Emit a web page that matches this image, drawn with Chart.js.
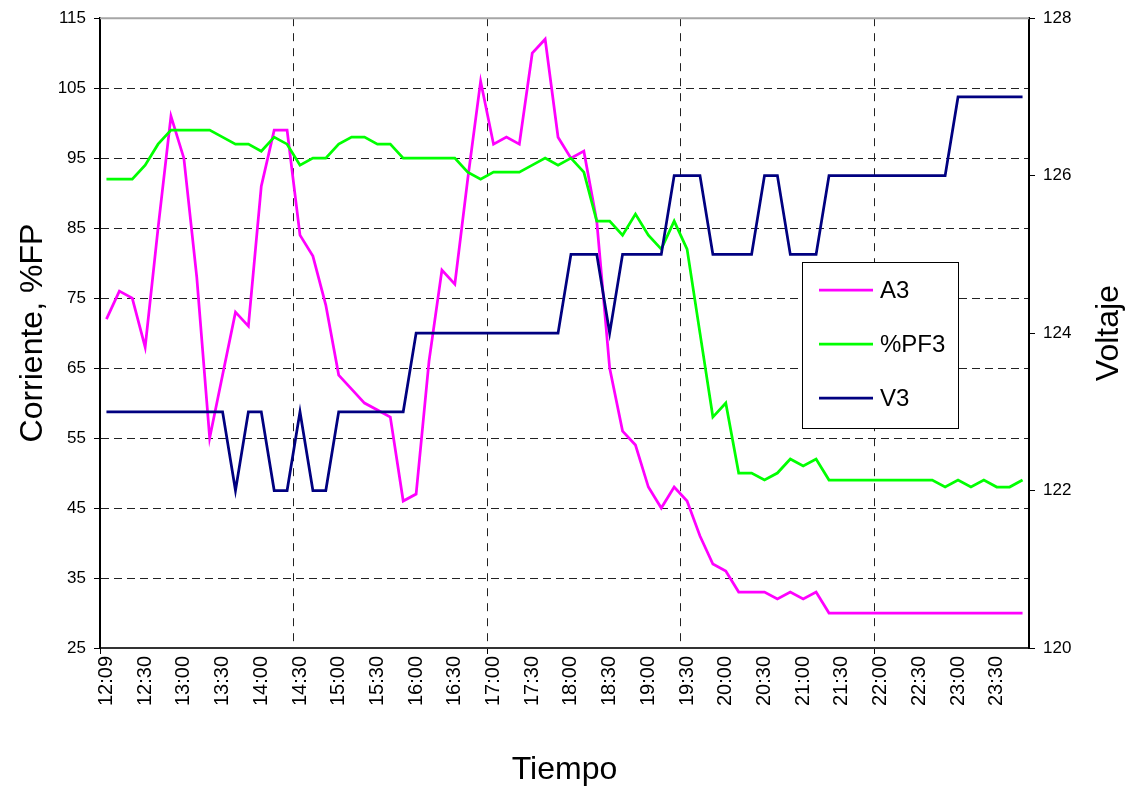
<!DOCTYPE html>
<html>
<head>
<meta charset="utf-8">
<script src="https://cdn.jsdelivr.net/npm/chart.js@4.4.1/dist/chart.umd.min.js"></script>
<style>
  html, body { margin: 0; padding: 0; background: #fff; }
</style>
</head>
<body>
<canvas id="chart" width="1136" height="790"></canvas>
<script>
// Time of each reading (10 min steps after the first one)
const times = [
  '12:09', '12:10', '12:20', '12:30', '12:40', '12:50',
  '13:00', '13:10', '13:20', '13:30', '13:40', '13:50',
  '14:00', '14:10', '14:20', '14:30', '14:40', '14:50',
  '15:00', '15:10', '15:20', '15:30', '15:40', '15:50',
  '16:00', '16:10', '16:20', '16:30', '16:40', '16:50',
  '17:00', '17:10', '17:20', '17:30', '17:40', '17:50',
  '18:00', '18:10', '18:20', '18:30', '18:40', '18:50',
  '19:00', '19:10', '19:20', '19:30', '19:40', '19:50',
  '20:00', '20:10', '20:20', '20:30', '20:40', '20:50',
  '21:00', '21:10', '21:20', '21:30', '21:40', '21:50',
  '22:00', '22:10', '22:20', '22:30', '22:40', '22:50',
  '23:00', '23:10', '23:20', '23:30', '23:40', '23:50'
];

// Corriente A3
const a3 = [
  72, 76, 75, 68, 85, 101, 95, 78, 55, 64,
  73, 71, 91, 99, 99, 84, 81, 74, 64, 62,
  60, 59, 58, 46, 47, 66, 79, 77, 92, 106,
  97, 98, 97, 110, 112, 98, 95, 96, 86, 65,
  56, 54, 48, 45, 48, 46, 41, 37, 36, 33,
  33, 33, 32, 33, 32, 33, 30, 30, 30, 30,
  30, 30, 30, 30, 30, 30, 30, 30, 30, 30,
  30, 30
];

// Factor de potencia %PF3
const pf3 = [
  92, 92, 92, 94, 97, 99, 99, 99, 99, 98,
  97, 97, 96, 98, 97, 94, 95, 95, 97, 98,
  98, 97, 97, 95, 95, 95, 95, 95, 93, 92,
  93, 93, 93, 94, 95, 94, 95, 93, 86, 86,
  84, 87, 84, 82, 86, 82, 70, 58, 60, 50,
  50, 49, 50, 52, 51, 52, 49, 49, 49, 49,
  49, 49, 49, 49, 49, 48, 49, 48, 49, 48,
  48, 49
];

// Voltaje V3 (eje derecho)
const v3 = [
  123, 123, 123, 123, 123, 123, 123, 123, 123, 123,
  122, 123, 123, 122, 122, 123, 122, 122, 123, 123,
  123, 123, 123, 123, 124, 124, 124, 124, 124, 124,
  124, 124, 124, 124, 124, 124, 125, 125, 125, 124,
  125, 125, 125, 125, 126, 126, 126, 125, 125, 125,
  125, 126, 126, 125, 125, 125, 126, 126, 126, 126,
  126, 126, 126, 126, 126, 126, 127, 127, 127, 127,
  127, 127
];

const leftTicks = { min: 25, max: 115, step: 10 };
const rightTicks = { min: 120, max: 128, step: 2 };

const FONT = '"Liberation Sans", Arial, sans-serif';
Chart.defaults.font.family = FONT;
Chart.defaults.color = '#000';

// gray top edge of the plot area
const plotFrame = {
  id: 'plotFrame',
  beforeDatasetsDraw(chart) {
    const { ctx, chartArea: a } = chart;
    ctx.save();
    ctx.strokeStyle = '#a6a6a6';
    ctx.lineWidth = 2;
    ctx.beginPath();
    ctx.moveTo(a.left, a.top);
    ctx.lineTo(a.right, a.top);
    ctx.stroke();
    ctx.restore();
  }
};

// boxed legend inside the plot + right axis title read bottom to top
const boxLegend = {
  id: 'boxLegend',
  afterDraw(chart) {
    const ctx = chart.ctx;
    const x = 802, y = 262, w = 156, h = 166;
    ctx.save();
    ctx.fillStyle = '#fff';
    ctx.fillRect(x, y, w, h);
    ctx.strokeStyle = '#000';
    ctx.lineWidth = 1;
    ctx.strokeRect(x + 0.5, y + 0.5, w, h);
    chart.data.datasets.forEach((ds, i) => {
      const cy = y + 28 + i * 54;
      ctx.strokeStyle = ds.borderColor;
      ctx.lineWidth = ds.borderWidth;
      ctx.beginPath();
      ctx.moveTo(x + 17, cy);
      ctx.lineTo(x + 71, cy);
      ctx.stroke();
      ctx.fillStyle = '#000';
      ctx.font = '24px ' + FONT;
      ctx.textBaseline = 'middle';
      ctx.textAlign = 'left';
      ctx.fillText(ds.label, x + 78, cy + 1);
    });

    const s = chart.scales.y2;
    ctx.translate(1109, (s.top + s.bottom) / 2);
    ctx.rotate(-Math.PI / 2);
    ctx.font = '32px ' + FONT;
    ctx.textAlign = 'center';
    ctx.textBaseline = 'middle';
    ctx.fillStyle = '#000';
    ctx.fillText(s.options.title.text, 0, 0);
    ctx.restore();
  }
};

new Chart(document.getElementById('chart'), {
  type: 'line',
  data: {
    labels: times,
    datasets: [
      { label: 'A3', data: a3, yAxisID: 'y', borderColor: '#ff00ff', borderWidth: 2.75, order: 2 },
      { label: '%PF3', data: pf3, yAxisID: 'y', borderColor: '#00ff00', borderWidth: 2.75, order: 1 },
      { label: 'V3', data: v3, yAxisID: 'y2', borderColor: '#000080', borderWidth: 2.75, order: 0 }
    ]
  },
  options: {
    responsive: false,
    animation: false,
    devicePixelRatio: 1,
    layout: { padding: { top: 17, left: 0, right: 0, bottom: 0 } },
    elements: {
      point: { radius: 0 },
      line: { tension: 0, fill: false }
    },
    plugins: {
      legend: { display: false },
      tooltip: { enabled: false }
    },
    scales: {
      x: {
        type: 'category',
        offset: true,
        grid: {
          offset: true,
          lineWidth: 1,
          color: c => (c.index > 0 && c.index < times.length && c.index % 15 === 0) ? '#222' : 'rgba(0,0,0,0)',
          tickColor: c => (c.index < times.length && c.index % 30 === 0) ? '#000' : 'rgba(0,0,0,0)',
          tickLength: 6,
          tickWidth: 1
        },
        border: { color: '#333', width: 2, dash: [8, 7] },
        ticks: {
          autoSkip: false,
          minRotation: 90,
          maxRotation: 90,
          padding: 2,
          font: { size: 20 },
          callback: (v, i) => (i % 3 === 0 ? times[i] : '')
        },
        title: {
          display: true,
          text: 'Tiempo',
          font: { size: 32 },
          padding: { top: 0, bottom: 1 }
        },
        afterFit: s => { s.height = 142; }
      },
      y: {
        type: 'linear',
        position: 'left',
        min: leftTicks.min,
        max: leftTicks.max,
        ticks: { stepSize: leftTicks.step, padding: 8, font: { size: 17 } },
        grid: {
          lineWidth: 1,
          color: c => (c.tick && c.tick.value > leftTicks.min && c.tick.value < leftTicks.max) ? '#222' : 'rgba(0,0,0,0)',
          tickColor: '#000',
          tickLength: 6
        },
        border: { color: '#000', width: 2, dash: [8, 5] },
        title: {
          display: true,
          text: 'Corriente, %FP',
          font: { size: 32 },
          padding: { top: 14, bottom: 0 }
        },
        afterFit: s => { s.width = 100; }
      },
      y2: {
        type: 'linear',
        position: 'right',
        min: rightTicks.min,
        max: rightTicks.max,
        ticks: { stepSize: rightTicks.step, padding: 8, font: { size: 17 } },
        grid: { drawOnChartArea: false, tickColor: '#000', tickLength: 6 },
        border: { color: '#000', width: 2 },
        title: { display: false, text: 'Voltaje' },
        afterFit: s => { s.width = 107; }
      }
    }
  },
  plugins: [plotFrame, boxLegend]
});
</script>
</body>
</html>
